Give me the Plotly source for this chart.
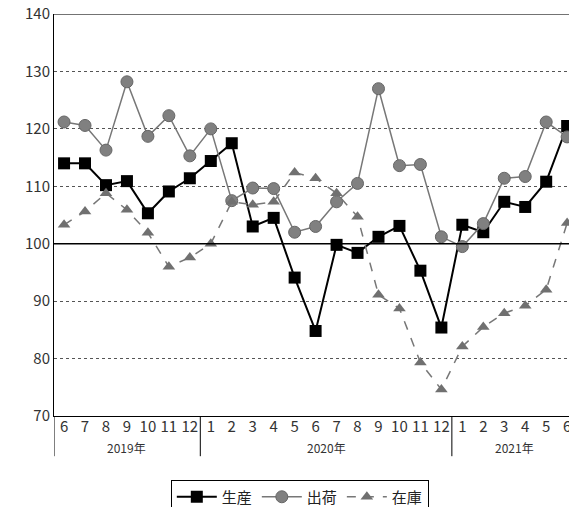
import plotly.graph_objects as go

# months from 2019/6 to 2021/6
months = ['6', '7', '8', '9', '10', '11', '12',
          '1', '2', '3', '4', '5', '6', '7', '8', '9', '10', '11', '12',
          '1', '2', '3', '4', '5', '6']
years = ['2019年', '2020年', '2021年']

production = [114.0, 114.0, 110.2, 110.9, 105.3, 109.1, 111.4,
              114.4, 117.5, 103.0, 104.5, 94.1, 84.8, 99.8, 98.4, 101.2, 103.1, 95.3, 85.4,
              103.3, 102.0, 107.3, 106.4, 110.8, 120.5]
shipment = [121.2, 120.6, 116.3, 128.2, 118.7, 122.3, 115.3,
            120.0, 107.5, 109.7, 109.6, 102.0, 103.0, 107.3, 110.5, 127.0, 113.6, 113.8, 101.2,
            99.5, 103.5, 111.4, 111.7, 121.2, 118.6]
inventory = [103.3, 105.6, 108.8, 105.9, 101.9, 96.0, 97.6,
             100.0, 107.3, 106.8, 107.3, 112.4, 111.4, 108.8, 104.7, 91.1, 88.7, 79.3, 74.6,
             82.1, 85.5, 87.9, 89.2, 92.0, 103.6]
y_ticks = [70, 80, 90, 100, 110, 120, 130, 140]

x = list(range(len(months)))
font = 'Noto Sans CJK JP'

fig = go.Figure()
fig.add_trace(go.Scatter(x=x, y=production, name='生産', mode='lines+markers',
                         line=dict(color='black', width=2),
                         marker=dict(symbol='square', size=12, color='black'),
                         cliponaxis=False))
fig.add_trace(go.Scatter(x=x, y=shipment, name='出荷', mode='lines+markers',
                         line=dict(color='#777777', width=1.5),
                         marker=dict(symbol='circle', size=12, color='#808080',
                                     line=dict(color='#666666', width=1)),
                         cliponaxis=False))
fig.add_trace(go.Scatter(x=x, y=inventory, name='在庫', mode='lines+markers',
                         line=dict(color='#777777', width=1.5, dash='dash'),
                         marker=dict(symbol='triangle-up', size=11, color='#707070'),
                         cliponaxis=False))

# the page body adds an 8px margin, so the figure is 8px smaller than the window
fig.update_layout(
    width=569, height=499,
    margin=dict(l=46, r=0, t=6, b=91, autoexpand=False),
    paper_bgcolor='white', plot_bgcolor='white',
    font=dict(family=font, color='#333333', size=14),
    showlegend=True,
    legend=dict(orientation='h', x=0.47, xanchor='center', y=-0.158, yanchor='top',
                bordercolor='black', borderwidth=1, font=dict(size=15, color='#222222'),
                itemwidth=40, tracegroupgap=0),
)
fig.update_xaxes(range=[-0.48, 24.47], tickmode='array', tickvals=x, ticktext=months,
                 showgrid=False, showline=True, linecolor='black', linewidth=1,
                 ticks='', tickfont=dict(size=15, color='#333333'), zeroline=False,
                 automargin=False, ticklabelstandoff=-3, ticklabeloverflow='allow')
fig.update_yaxes(range=[69.99, 140.01], tickmode='array', tickvals=y_ticks,
                 showgrid=True, gridcolor='#555555',
                 griddash='dot', gridwidth=1, showline=True, linecolor='black',
                 linewidth=1, ticks='', tickfont=dict(size=15, color='#333333'),
                 zeroline=False, automargin=False, ticklabeloverflow='allow')

# solid reference line at 100 and top border
fig.add_shape(type='line', xref='paper', yref='y', x0=0, x1=1, y0=100, y1=100,
              line=dict(color='black', width=1.5))
fig.add_shape(type='line', xref='paper', yref='y', x0=0, x1=1, y0=140, y1=140,
              line=dict(color='#444444', width=1.5))

# year separators below axis
for xv in [-0.48, 6.5, 18.5]:
    fig.add_shape(type='line', xref='x', yref='paper', x0=xv, x1=xv, y0=0, y1=-0.1,
                  line=dict(color='black', width=1))

for label, xc in zip(years, [3, 12.5, 21.5]):
    fig.add_annotation(x=xc, y=-0.079, xref='x', yref='paper', text=label,
                       yanchor='middle', showarrow=False,
                       font=dict(size=12, color='#333333'))

fig.write_html('out.html')
